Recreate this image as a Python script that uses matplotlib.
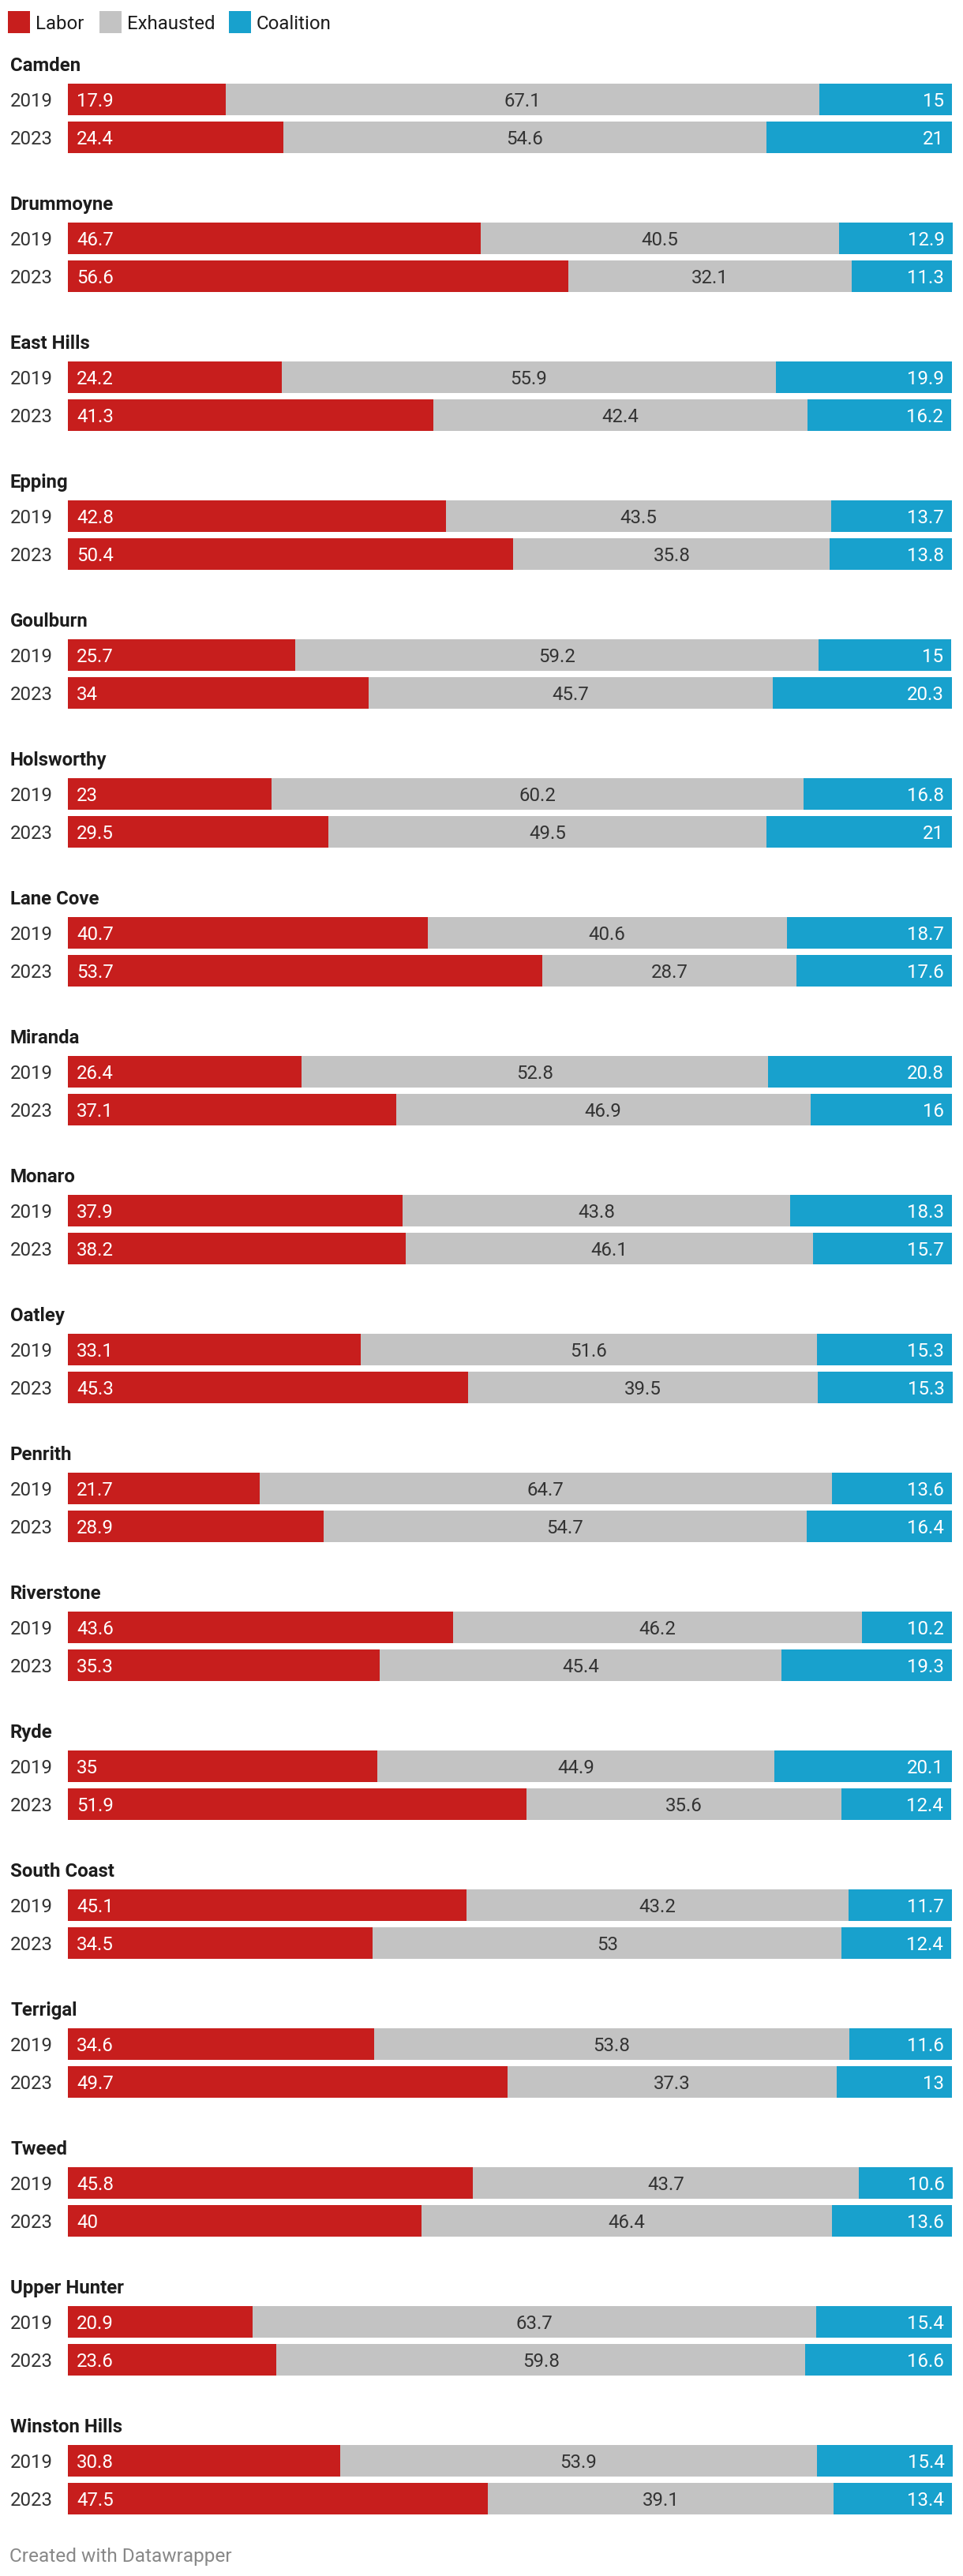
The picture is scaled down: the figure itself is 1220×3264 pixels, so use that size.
import matplotlib
matplotlib.use("Agg")
import matplotlib.pyplot as plt
import matplotlib.transforms as mtransforms
from matplotlib.patches import Rectangle

plt.rcParams["font.family"] = ["Roboto", "DejaVu Sans"]

# data
districts = ["Camden", "Drummoyne", "East Hills", "Epping", "Goulburn",
             "Holsworthy", "Lane Cove", "Miranda", "Monaro", "Oatley",
             "Penrith", "Riverstone", "Ryde", "South Coast", "Terrigal",
             "Tweed", "Upper Hunter", "Winston Hills"]
years = ["2019", "2023"]

labor_2019 = [17.9, 46.7, 24.2, 42.8, 25.7, 23, 40.7, 26.4, 37.9, 33.1,
              21.7, 43.6, 35, 45.1, 34.6, 45.8, 20.9, 30.8]
exhausted_2019 = [67.1, 40.5, 55.9, 43.5, 59.2, 60.2, 40.6, 52.8, 43.8, 51.6,
                  64.7, 46.2, 44.9, 43.2, 53.8, 43.7, 63.7, 53.9]
coalition_2019 = [15, 12.9, 19.9, 13.7, 15, 16.8, 18.7, 20.8, 18.3, 15.3,
                  13.6, 10.2, 20.1, 11.7, 11.6, 10.6, 15.4, 15.4]

labor_2023 = [24.4, 56.6, 41.3, 50.4, 34, 29.5, 53.7, 37.1, 38.2, 45.3,
              28.9, 35.3, 51.9, 34.5, 49.7, 40, 23.6, 47.5]
exhausted_2023 = [54.6, 32.1, 42.4, 35.8, 45.7, 49.5, 28.7, 46.9, 46.1, 39.5,
                  54.7, 45.4, 35.6, 53, 37.3, 46.4, 59.8, 39.1]
coalition_2023 = [21, 11.3, 16.2, 13.8, 20.3, 21, 17.6, 16, 15.7, 15.3,
                  16.4, 19.3, 12.4, 12.4, 13, 13.6, 16.6, 13.4]

series_names = ["Labor", "Exhausted", "Coalition"]
COLORS = ["#c71e1d", "#c3c3c3", "#18a1cd"]
LABEL_COLORS = ["white", "#333333", "white"]

# layout in pixels
W, H = 1220, 3264
BAR_LEFT, BAR_RIGHT = 86, 1206
FIRST_TOP = 106
GROUP_STEP = 176
ROW_STEP = 48
BAR_H = 40
FS = 17.3

fig = plt.figure(figsize=(W / 100, H / 100), dpi=100)
ax = fig.add_axes([BAR_LEFT / W, 0, (BAR_RIGHT - BAR_LEFT) / W, 1])
ax.set_xlim(0, 100)
ax.set_ylim(H, 0)
ax.axis("off")

# x in figure fraction, y in axes data (pixels)
tr = mtransforms.blended_transform_factory(fig.transFigure, ax.transData)
# data coords shifted by dx pixels
def offset(dx):
    return ax.transData + mtransforms.ScaledTranslation(dx / 100, 0, fig.dpi_scale_trans)

rows = [(labor_2019, exhausted_2019, coalition_2019),
        (labor_2023, exhausted_2023, coalition_2023)]

for g, name in enumerate(districts):
    top = FIRST_TOP + g * GROUP_STEP
    ax.text(13 / W, top - 16, name, transform=tr, fontsize=FS,
            fontweight="bold", color="#1d1d1d", va="baseline", ha="left")
    for i, year in enumerate(years):
        yc = top + i * ROW_STEP + BAR_H / 2
        vals = [rows[i][k][g] for k in range(3)]
        ax.text(13 / W, yc, year, transform=tr, fontsize=FS,
                color="#333333", va="center_baseline", ha="left")
        left = 0
        for k, v in enumerate(vals):
            ax.barh(yc, v, left=left, height=BAR_H, color=COLORS[k],
                    linewidth=0, clip_on=False)
            label = f"{v:g}"
            if k == 0:
                ax.text(left, yc, label, transform=offset(11), fontsize=FS,
                        color=LABEL_COLORS[k], va="center_baseline", ha="left")
            elif k == 1:
                ax.text(left + v / 2, yc, label, fontsize=FS,
                        color=LABEL_COLORS[k], va="center_baseline", ha="center")
            else:
                ax.text(left + v, yc, label, transform=offset(-10), fontsize=FS,
                        color=LABEL_COLORS[k], va="center_baseline", ha="right")
            left += v

# legend
legend_x = [10, 126, 290]
for x, name, c in zip(legend_x, series_names, COLORS):
    fig.patches.append(Rectangle((x / W, 1 - 42 / H), 28 / W, 28 / H,
                                 transform=fig.transFigure, color=c,
                                 linewidth=0))
    fig.text((x + 35) / W, 1 - 28 / H, name, fontsize=FS, color="#1d1d1d",
             va="center_baseline", ha="left")

fig.text(12 / W, 1 - 3246 / H, "Created with Datawrapper", fontsize=17.6,
         color="#888888", va="baseline", ha="left")

fig.savefig("out.png", dpi=100, facecolor="white")
